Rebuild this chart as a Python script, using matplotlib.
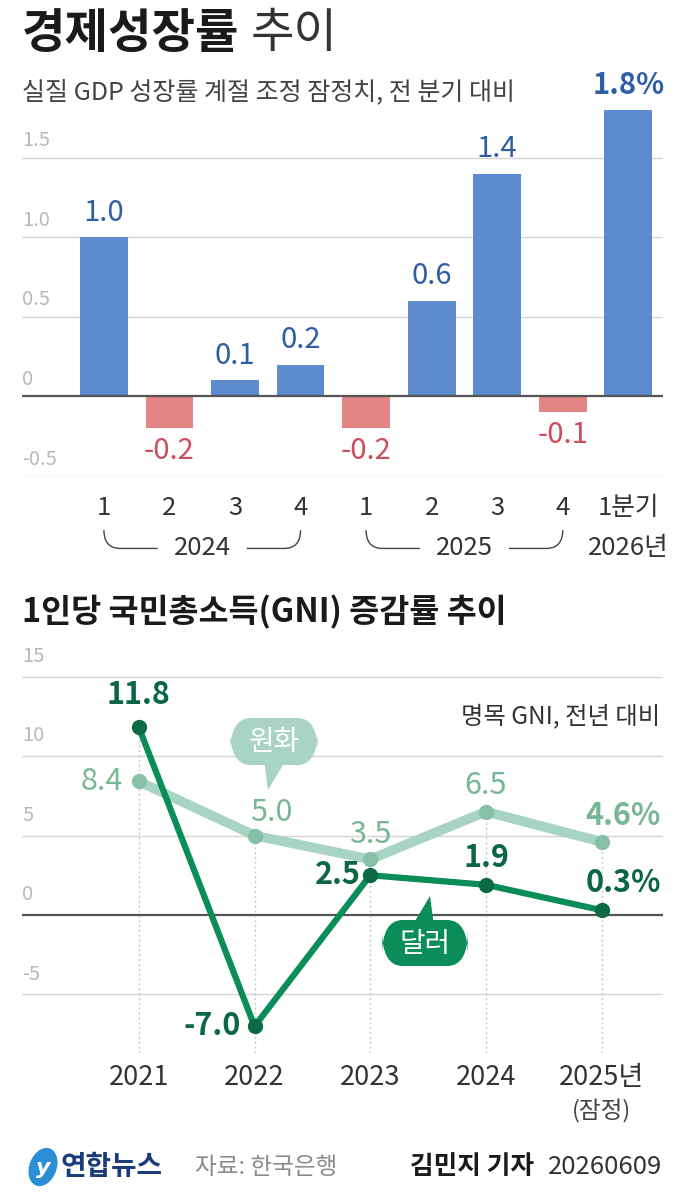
import matplotlib
matplotlib.use('Agg')
import matplotlib.pyplot as plt
from matplotlib.patches import FancyBboxPatch, Polygon, Ellipse
from matplotlib.path import Path
from matplotlib.patches import PathPatch

plt.rcParams['font.family'] = ['Noto Sans CJK KR', 'DejaVu Sans']

# 실질 GDP 성장률 (분기)
quarters = ['1', '2', '3', '4', '1', '2', '3', '4', '1분기']
gdp = [1.0, -0.2, 0.1, 0.2, -0.2, 0.6, 1.4, -0.1, 1.8]
gdp_labels = ['1.0', '-0.2', '0.1', '0.2', '-0.2', '0.6', '1.4', '-0.1', '1.8%']
top_yticks = [1.5, 1.0, 0.5, 0, -0.5]
top_ytick_labels = ['1.5', '1.0', '0.5', '0', '-0.5']

# 1인당 GNI 증감률
years = ['2021', '2022', '2023', '2024', '2025년']
won = [8.4, 5.0, 3.5, 6.5, 4.6]
dollar = [11.8, -7.0, 2.5, 1.9, 0.3]
bot_yticks = [15, 10, 5, 0, -5]

W, H = 685, 1200
fig = plt.figure(figsize=(W / 100, H / 100), dpi=100)
fig.patch.set_facecolor('white')


def fx(x):
    return x / W


def fy(y):
    return 1 - y / H


BLUE = '#5d8bcd'
BLUE_T = '#2e5fa6'
PINK = '#e48585'
PINK_T = '#cc4d5c'
GRID = '#d4d4d4'
TICK = '#b8b8b8'
LIGHT = '#a7d4c4'
LIGHT_M = '#86c0a6'
LIGHT_T = '#78b795'
DARK = '#0a8d58'
DARK_M = '#0b6a43'
DARK_T = '#0b6644'

# titles
fig.text(fx(22), fy(34), '경제성장률', fontsize=34, fontweight='bold', color='#1a1a1a', va='center')
fig.text(fx(251), fy(34), '추이', fontsize=34, color='#333333', va='center')
fig.text(fx(22), fy(92), '실질 GDP 성장률 계절 조정 잠정치, 전 분기 대비', fontsize=18,
         color='#444444', va='center')

# ---- top chart
ax1 = fig.add_axes([fx(22), fy(476), fx(663) - fx(22), fy(100) - fy(476)])
ax1.set_xlim(-1.25, 8.53)
ax1.set_ylim(-0.5, 1.862)
ax1.axis('off')
for v, lab in zip(top_yticks, top_ytick_labels):
    if v == 0:
        ax1.axhline(v, color='#555555', lw=1.6, zorder=3)
    else:
        ax1.axhline(v, color=GRID, lw=1.0, zorder=0)
    ax1.text(-1.25, v + 0.04, lab, fontsize=14.5, color=TICK, va='bottom', ha='left')

xs = list(range(len(gdp)))
colors = [BLUE if v >= 0 else PINK for v in gdp]
ax1.bar(xs, gdp, width=0.73, color=colors, zorder=2)
for x, v, lab in zip(xs, gdp, gdp_labels):
    if v >= 0:
        ax1.text(x, v + 0.06, lab, ha='center', va='bottom', fontsize=21,
                 color=BLUE_T, fontweight='bold' if '%' in lab else 'medium')
    else:
        ax1.text(x, v - 0.05, lab, ha='center', va='top', fontsize=21, color=PINK_T)

for x, q in zip(xs, quarters):
    ax1.text(x, -0.70, q, ha='center', va='center', fontsize=18.5, color='#333333', clip_on=False)


def bracket(ax, x0, x1, xm, tw, y_top, y_bot):
    for a, b, s in [(x0, xm - tw, 1), (x1, xm + tw, -1)]:
        verts = [(a, y_top), (a, y_bot), (a + s * 0.25, y_bot), (b, y_bot)]
        codes = [Path.MOVETO, Path.CURVE3, Path.CURVE3, Path.LINETO]
        ax.add_patch(PathPatch(Path(verts, codes), fill=False, ec='#444444', lw=1.0, clip_on=False))


bracket(ax1, 0, 3, 1.5, 0.68, -0.84, -0.955)
bracket(ax1, 4, 7, 5.5, 0.68, -0.84, -0.955)
ax1.text(1.5, -0.955, '2024', ha='center', va='center', fontsize=18.5, color='#333333')
ax1.text(5.5, -0.955, '2025', ha='center', va='center', fontsize=18.5, color='#333333')
ax1.text(8, -0.955, '2026년', ha='center', va='center', fontsize=18.5, color='#333333')

# ---- bottom chart
fig.text(fx(22), fy(612), '1인당 국민총소득(GNI) 증감률 추이', fontsize=23.5, fontweight='bold',
         color='#1a1a1a', va='center')

ax2 = fig.add_axes([fx(22), fy(1053), fx(663) - fx(22), fy(670) - fy(1053)])
ax2.set_xlim(-1.01, 4.53)
ax2.set_ylim(-8.68, 15.41)
ax2.axis('off')
for v in bot_yticks:
    if v == 0:
        ax2.axhline(v, color='#555555', lw=1.6, zorder=1)
    else:
        ax2.axhline(v, color=GRID, lw=1.0, zorder=0)
    ax2.text(-1.01, v + 0.6, str(v), fontsize=14.5, color=TICK, va='bottom', ha='left')

yx = list(range(len(years)))
for x, a, b in zip(yx, won, dollar):
    ax2.plot([x, x], [-8.68, max(a, b)], color='#c8c8c8', lw=1.0, ls=(0, (1.5, 2)), zorder=0)

ax2.plot(yx, won, color=LIGHT, lw=7, solid_capstyle='round', zorder=2)
ax2.plot(yx, won, 'o', color=LIGHT_M, ms=10, zorder=3)
ax2.plot(yx, dollar, color=DARK, lw=4.5, solid_capstyle='round', zorder=4)
ax2.plot(yx, dollar, 'o', color=DARK_M, ms=10, zorder=5)

fig.text(fx(660), fy(716), '명목 GNI, 전년 대비', fontsize=17.5, color='#333333', ha='right', va='center')

# value labels
lab_kw = dict(fontsize=22, clip_on=False)
ax2.text(0, 12.8, '11.8', ha='center', va='bottom', color=DARK_T, fontweight='bold', **lab_kw)
ax2.text(-0.14, 8.4, '8.4', ha='right', va='center', color=LIGHT_T, **lab_kw)
ax2.text(1.15, 5.5, '5.0', ha='center', va='bottom', color=LIGHT_T, **lab_kw)
ax2.text(2, 4.1, '3.5', ha='center', va='bottom', color=LIGHT_T, **lab_kw)
ax2.text(3, 7.2, '6.5', ha='center', va='bottom', color=LIGHT_T, **lab_kw)
ax2.text(4.51, 5.2, '4.6%', ha='right', va='bottom', color=LIGHT_T, fontweight='bold', **lab_kw)
ax2.text(1.92, 2.5, '2.5', ha='right', va='center', color=DARK_T, fontweight='bold', **lab_kw)
ax2.text(3, 2.6, '1.9', ha='center', va='bottom', color=DARK_T, fontweight='bold', **lab_kw)
ax2.text(4.51, 1.0, '0.3%', ha='right', va='bottom', color=DARK_T, fontweight='bold', **lab_kw)
ax2.text(0.88, -7.0, '-7.0', ha='right', va='center', color=DARK_T, fontweight='bold', **lab_kw)


# callouts (pixel coords on figure)
def bubble(x0, y0, x1, y1, tip, base, color, text):
    box = FancyBboxPatch((fx(x0), fy(y1)), fx(x1) - fx(x0), fy(y0) - fy(y1),
                         boxstyle='round,pad=0,rounding_size=0.03', transform=fig.transFigure,
                         fc=color, ec='none', zorder=10)
    fig.add_artist(box)
    tri = Polygon([(fx(p[0]), fy(p[1])) for p in [tip] + base], closed=True,
                  transform=fig.transFigure, fc=color, ec='none', zorder=10)
    fig.add_artist(tri)
    fig.text(fx((x0 + x1) / 2), fy((y0 + y1) / 2 + 1), text, ha='center', va='center',
             fontsize=20, color='white', zorder=11)


bubble(230, 718, 318, 765, (268, 790), [(264, 760), (286, 760)], '#a9d3c5', '원화')
bubble(382, 920, 468, 966, (430, 896), [(412, 926), (434, 926)], DARK, '달러')

for x, y in zip(yx, years):
    ax2.text(x, -10.2, y, ha='center', va='center', fontsize=19.5, color='#333333', clip_on=False)
ax2.text(4, -12.35, '(잠정)', ha='center', va='center', fontsize=17, color='#444444', clip_on=False)

# footer
fig.add_artist(Ellipse((fx(43), fy(1167)), fx(30) - fx(0), fy(0) - fy(36), angle=20,
                       transform=fig.transFigure, fc='#2b8fd6', ec='none'))
fig.text(fx(43), fy(1168), 'y', fontsize=16, fontstyle='italic', color='white', ha='center', va='center',
         family='DejaVu Sans', fontweight='bold')
fig.text(fx(60), fy(1167), '연합뉴스', fontsize=20, fontweight='bold', color='#1c3c78', va='center')
fig.text(fx(195), fy(1167), '자료: 한국은행', fontsize=17, color='#8a8a8a', va='center')
fig.text(fx(410), fy(1167), '김민지 기자', fontsize=18.5, fontweight='bold', color='#1a1a1a', va='center')
fig.text(fx(662), fy(1167), '20260609', fontsize=18.5, color='#333333', va='center', ha='right')

fig.savefig('out.png', dpi=100, facecolor='white')
